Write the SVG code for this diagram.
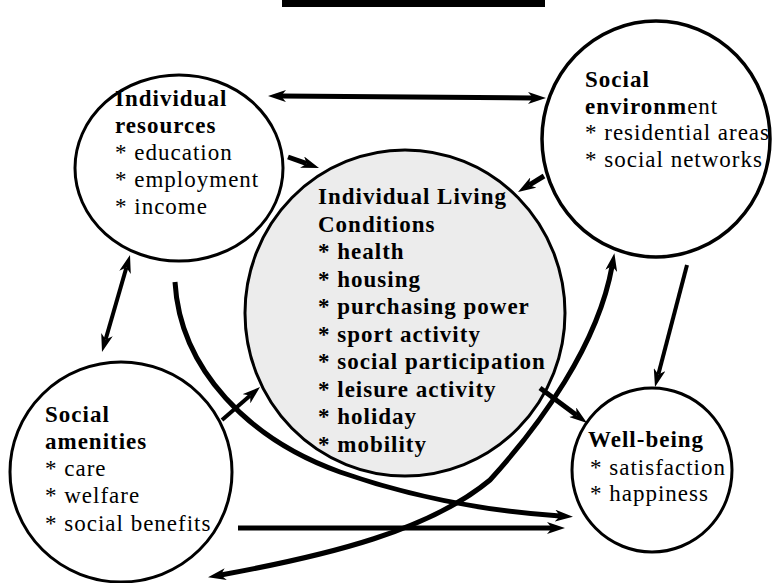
<svg xmlns="http://www.w3.org/2000/svg" width="772" height="583" viewBox="0 0 772 583">
<style>
.node{fill:#fff;stroke:#000;stroke-width:3}
.core{fill:#ececec;stroke:#000;stroke-width:3}
text{font-family:"Liberation Serif","Times New Roman",serif;font-size:23px;letter-spacing:1px;fill:#000}
.b{font-weight:bold}
.c{fill:none;stroke:#000;stroke-width:5}
</style>
<defs>
<marker id="ah" viewBox="0 0 18 12" refX="5" refY="6" markerWidth="18" markerHeight="12" markerUnits="userSpaceOnUse" orient="auto-start-reverse">
<path d="M0,0 L18,6 L0,12 L5,6 z" fill="#000"/>
</marker>
</defs>
<rect x="282" y="0" width="263" height="7" fill="#000"/>
<g id="individual-resources">
<ellipse class="node" cx="179" cy="168" rx="104" ry="93"/>
<text x="115" y="106" class="b">Individual</text>
<text x="115" y="133" class="b">resources</text>
<text x="115" y="160">* education</text>
<text x="115" y="187">* employment</text>
<text x="115" y="214">* income</text>
</g>
<g id="social-environment">
<ellipse class="node" cx="656" cy="139" rx="114" ry="118" style="stroke-width:3.5"/>
<text x="585" y="87" class="b">Social</text>
<text x="585" y="114"><tspan class="b">environm</tspan>ent</text>
<text x="585" y="140">* residential areas</text>
<text x="585" y="167">* social networks</text>
</g>
<g id="living-conditions">
<ellipse class="core" cx="405" cy="313" rx="160" ry="163"/>
<text x="318" y="204" class="b">Individual Living</text>
<text x="318" y="232" class="b">Conditions</text>
<text x="318" y="259" class="b">* health</text>
<text x="318" y="287" class="b">* housing</text>
<text x="318" y="314" class="b">* purchasing power</text>
<text x="318" y="342" class="b">* sport activity</text>
<text x="318" y="369" class="b">* social participation</text>
<text x="318" y="397" class="b">* leisure activity</text>
<text x="318" y="424" class="b">* holiday</text>
<text x="318" y="452" class="b">* mobility</text>
</g>
<g id="social-amenities">
<ellipse class="node" cx="121" cy="472" rx="111" ry="110"/>
<text x="45" y="422" class="b">Social</text>
<text x="45" y="449" class="b">amenities</text>
<text x="45" y="476">* care</text>
<text x="45" y="503">* welfare</text>
<text x="45" y="531">* social benefits</text>
</g>
<g id="well-being">
<ellipse class="node" cx="652" cy="470" rx="80" ry="82"/>
<text x="588" y="447" class="b">Well-being</text>
<text x="590" y="475">* satisfaction</text>
<text x="590" y="501">* happiness</text>
</g>
<g id="connectors">
<path class="c" d="M281,96 L533,98" marker-start="url(#ah)" marker-end="url(#ah)"/>
<path class="c" d="M288,157 L306.8,163.7" marker-end="url(#ah)"/>
<path class="c" d="M544,176 L529.1,185.2" marker-end="url(#ah)"/>
<path class="c" style="stroke-width:4" d="M126.4,267.5 L105.6,339.5" marker-start="url(#ah)" marker-end="url(#ah)"/>
<path class="c" style="stroke-width:4" d="M222,420 L250.2,395.5" marker-end="url(#ah)"/>
<path class="c" d="M175,282 C180,370 250,440 340,472 C420,500 500,512 560,516" marker-end="url(#ah)"/>
<path class="c" d="M238,528 L552,528" marker-end="url(#ah)"/>
<path class="c" d="M220.8,575 C330,555 430,530 490,480 C540,425 598,345 612.1,266" marker-start="url(#ah)" marker-end="url(#ah)"/>
<path class="c" d="M540,388 L576.6,415.2" marker-end="url(#ah)"/>
<path class="c" style="stroke-width:4" d="M687,265 L658.3,374.4" marker-end="url(#ah)"/>
</g>
</svg>
